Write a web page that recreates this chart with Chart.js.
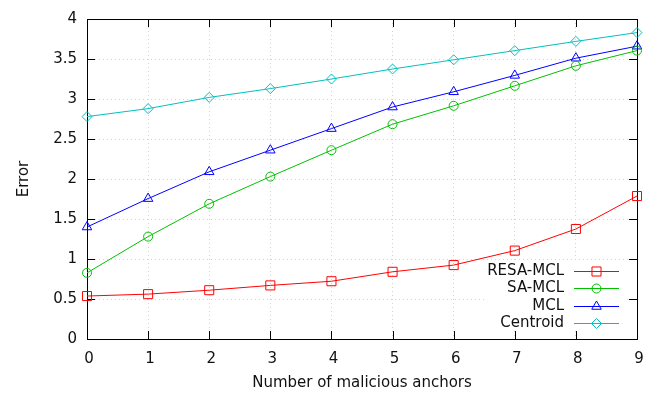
<!DOCTYPE html>
<html>
<head>
<meta charset="utf-8">
<script src="https://cdn.jsdelivr.net/npm/chart.js@4/dist/chart.umd.min.js"></script>
<style>
  html, body { margin: 0; padding: 0; background: #fff; }
  #wrap { width: 658px; height: 397px; }
</style>
</head>
<body>
<div id="wrap"><canvas id="chart" width="658" height="397"></canvas></div>
<script>
// data
const anchors = ['0', '1', '2', '3', '4', '5', '6', '7', '8', '9'];
const resaMcl = [0.537, 0.561, 0.61, 0.67, 0.722, 0.84, 0.924, 1.105, 1.375, 1.787];
const saMcl = [0.827, 1.28, 1.69, 2.03, 2.36, 2.685, 2.915, 3.165, 3.415, 3.605];
const mcl = [1.40, 1.755, 2.09, 2.36, 2.63, 2.90, 3.09, 3.295, 3.51, 3.66];
const centroid = [2.78, 2.88, 3.02, 3.13, 3.25, 3.375, 3.49, 3.605, 3.72, 3.83];
const yTicks = [0, 0.5, 1, 1.5, 2, 2.5, 3, 3.5, 4];

const FONT = { family: 'DejaVu Sans', size: 15 };
const TICK_LEN = 8;

/**
 * gnuplot 스타일 테두리 + 안쪽 눈금
 */
const framePlugin = {
  id: 'frame',
  beforeDatasetsDraw(chart) {
    const { ctx, chartArea: a, scales: { x, y } } = chart;
    ctx.save();
    ctx.strokeStyle = '#000';
    ctx.lineWidth = 1;
    ctx.beginPath();
    anchors.forEach((_, i) => {
      const px = Math.round(x.getPixelForValue(i)) + 0.5;
      ctx.moveTo(px, a.bottom); ctx.lineTo(px, a.bottom - TICK_LEN);
      ctx.moveTo(px, a.top); ctx.lineTo(px, a.top + TICK_LEN);
    });
    yTicks.forEach(v => {
      const py = Math.round(y.getPixelForValue(v)) + 0.5;
      ctx.moveTo(a.left, py); ctx.lineTo(a.left + TICK_LEN, py);
      ctx.moveTo(a.right, py); ctx.lineTo(a.right - TICK_LEN, py);
    });
    ctx.stroke();
    ctx.strokeRect(Math.round(a.left) + 0.5, Math.round(a.top) + 0.5,
      Math.round(a.right - a.left), Math.round(a.bottom - a.top));
    ctx.restore();
  }
};

/**
 * 오른쪽 아래 범례 (텍스트 오른쪽 정렬, 샘플 선 + 마커)
 */
const keyPlugin = {
  id: 'key',
  afterDatasetsDraw(chart) {
    const { ctx, chartArea: a } = chart;
    const textRight = a.right - 73;
    const lineStart = a.right - 63;
    const lineEnd = a.right - 18;
    const top = a.bottom - 68.3;
    ctx.save();
    ctx.fillStyle = '#fff';
    ctx.fillRect(a.right - 151, a.bottom - 77, 140, 68);
    ctx.font = `${FONT.size}px ${FONT.family}`;
    ctx.textAlign = 'right';
    ctx.textBaseline = 'middle';
    chart.data.datasets.forEach((ds, i) => {
      const ry = Math.round(top + i * 17.5) + 0.5;
      ctx.fillStyle = '#111';
      ctx.fillText(ds.label, textRight, ry);
      ctx.strokeStyle = ds.borderColor;
      ctx.lineWidth = 1;
      ctx.beginPath();
      ctx.moveTo(lineStart, ry);
      ctx.lineTo(lineEnd, ry);
      ctx.stroke();
      ctx.fillStyle = 'rgba(0,0,0,0)';
      Chart.helpers.drawPoint(ctx, {
        pointStyle: ds.pointStyle,
        radius: ds.pointRadius,
        rotation: 0,
        borderWidth: 1
      }, (lineStart + lineEnd) / 2, ry);
    });
    ctx.restore();
  }
};

function makeSeries(label, data, color, style, radius) {
  return {
    label,
    data,
    borderColor: color,
    backgroundColor: 'rgba(0,0,0,0)',
    borderWidth: 1,
    pointStyle: style,
    pointRadius: radius,
    pointBorderWidth: 1,
    pointBorderColor: color,
    pointBackgroundColor: 'rgba(0,0,0,0)',
    tension: 0,
    fill: false,
    clip: false
  };
}

const ctx = document.getElementById('chart').getContext('2d');
new Chart(ctx, {
  type: 'line',
  data: {
    labels: anchors,
    datasets: [
      makeSeries('RESA-MCL', resaMcl, '#ff0000', 'rect', 6.4),
      makeSeries('SA-MCL', saMcl, '#00c000', 'circle', 4.5),
      makeSeries('MCL', mcl, '#0000ff', 'triangle', 5.5),
      makeSeries('Centroid', centroid, '#00c0c0', 'rectRot', 5)
    ]
  },
  options: {
    responsive: false,
    devicePixelRatio: 1,
    animation: false,
    layout: { padding: { top: 8, right: 21, left: 0, bottom: 0 } },
    plugins: {
      legend: { display: false },
      tooltip: { enabled: false }
    },
    scales: {
      x: {
        type: 'category',
        offset: false,
        grid: { color: '#d4d4d4', drawTicks: false, lineWidth: 1 },
        border: { display: false, dash: [1, 3] },
        ticks: { color: '#111', font: FONT, padding: 11, labelOffset: 2, maxRotation: 0, autoSkip: false },
        title: {
          display: true,
          text: 'Number of malicious anchors',
          color: '#111',
          font: FONT,
          padding: { top: 0, bottom: 5 }
        },
        afterFit(scale) { scale.height = 58; }
      },
      y: {
        min: 0,
        max: 4,
        afterBuildTicks(scale) { scale.ticks = yTicks.map(v => ({ value: v })); },
        grid: { color: '#d4d4d4', drawTicks: false, lineWidth: 1 },
        border: { display: false, dash: [1, 3] },
        ticks: { color: '#111', font: FONT, padding: 10, callback: v => String(v) },
        title: {
          display: true,
          text: 'Error',
          color: '#111',
          font: FONT,
          padding: { top: 15, bottom: 0 }
        },
        afterFit(scale) { scale.width = 87; }
      }
    }
  },
  plugins: [framePlugin, keyPlugin]
});
</script>
</body>
</html>
